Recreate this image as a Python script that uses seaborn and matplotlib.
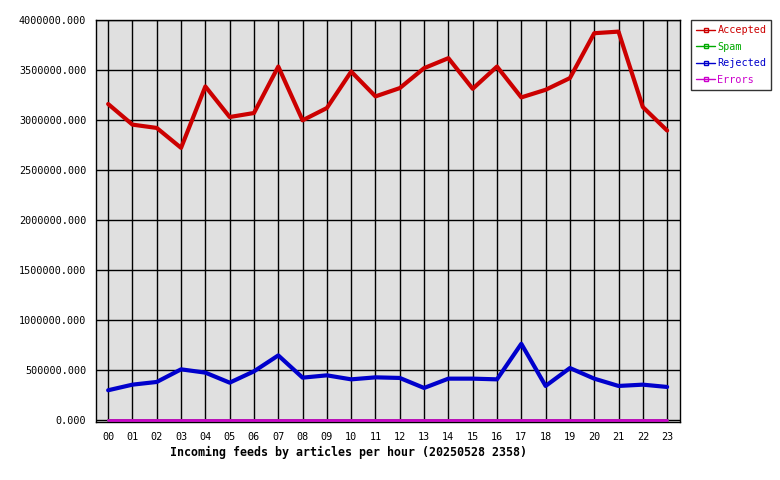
import pandas as pd
import numpy as np
import matplotlib.pyplot as plt
import seaborn as sns
from matplotlib.lines import Line2D

hours = ["%02d" % h for h in range(24)]
accepted = [3161000, 2955000, 2922000, 2723000, 3336000, 3031000, 3071000, 3535000,
            2998000, 3121000, 3485000, 3237000, 3320000, 3519000, 3619000, 3313000,
            3535000, 3227000, 3303000, 3420000, 3868000, 3884000, 3131000, 2896000]
spam = [0] * 24
rejected = [302000, 358000, 385000, 511000, 478000, 378000, 491000, 650000,
            428000, 451000, 411000, 431000, 425000, 325000, 418000, 418000,
            411000, 766000, 345000, 524000, 418000, 345000, 358000, 335000]
errors = [0] * 24

series = ["Accepted", "Spam", "Rejected", "Errors"]
colors = {"Accepted": "#cc0000", "Spam": "#00aa00", "Rejected": "#0000cc", "Errors": "#cc00cc"}
widths = {"Accepted": 3, "Spam": 2, "Rejected": 3, "Errors": 2}

df = pd.DataFrame({"hour": list(range(24)) * 4,
                   "value": accepted + spam + rejected + errors,
                   "series": sum([[s] * 24 for s in series], [])})

sns.set_style("white")
plt.rcParams["font.family"] = ["DejaVu Sans Mono"]

fig = plt.figure(figsize=(7.8, 4.8), dpi=100)
ax = fig.add_axes([96 / 780, 58 / 480, 584 / 780, 402 / 480])
ax.set_facecolor("#e0e0e0")

for s in series:
    sns.lineplot(data=df[df["series"] == s], x="hour", y="value", color=colors[s],
                 lw=widths[s], ax=ax, legend=False, zorder=3)

# a little room under zero so the flat lines sit just above the axis
ax.set_xlim(-0.5, 23.53)
ax.set_ylim(-15000, 4000000)
ax.set_xticks(range(24))
ax.set_xticklabels(hours)
ax.set_yticks(np.arange(0, 4000001, 500000))
ax.set_yticklabels(["%.3f" % v for v in np.arange(0, 4000001, 500000)])
ax.grid(True, color="black", lw=1, zorder=1)
ax.set_axisbelow(True)
for sp in ax.spines.values():
    sp.set_color("black")
    sp.set_linewidth(1)
ax.tick_params(axis="both", direction="out", length=4, width=1, color="black",
               labelcolor="black", labelsize=7.3, pad=3)
ax.set_xlabel("Incoming feeds by articles per hour (20250528 2358)",
              fontsize=8.4, fontweight="bold", color="black")
ax.xaxis.set_label_coords(348 / 780, 24 / 480, transform=fig.transFigure)
ax.xaxis.label.set_verticalalignment("baseline")
ax.set_ylabel("")

handles = [Line2D([0], [0], color=colors[s], lw=1, marker="s", markersize=2.5,
                  markerfacecolor="none", markeredgecolor=colors[s]) for s in series]
leg = ax.legend(handles, series, loc="upper left", bbox_to_anchor=(691 / 780, 460 / 480),
                bbox_transform=fig.transFigure, fontsize=7.3, frameon=True, fancybox=False,
                handlelength=1.9, handletextpad=0.2, borderpad=0.5, labelspacing=0.65,
                borderaxespad=0)
leg.get_frame().set_edgecolor("black")
leg.get_frame().set_linewidth(1)
for t, s in zip(leg.get_texts(), series):
    t.set_color(colors[s])

plt.savefig("out.png", dpi=100)
